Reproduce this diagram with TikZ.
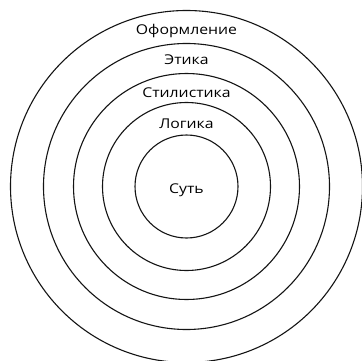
\documentclass[tikz,border=0pt]{standalone}
\usepackage{fontspec}
\setmainfont[FakeStretch=1.17]{Open Sans}
\usepackage{xcolor}
\definecolor{ring}{RGB}{20,20,20}
\definecolor{label}{RGB}{45,45,45}

\begin{document}
\begin{tikzpicture}[x=1pt,y=1pt]
  \tikzset{
    ringline/.style={ring,line width=1.1pt},
    ringlabel/.style={label,font=\fontsize{13.5}{15}\selectfont,inner sep=0pt}
  }
  \useasboundingbox (0,0) rectangle (362,360);
  \clip (0,0) rectangle (362,360);
  \fill[white] (0,0) rectangle (362,360);

  % rings
  \draw[ringline] (186.5,173.5) circle (176);
  \draw[ringline] (186.5,173.5) circle (143);
  \draw[ringline] (186.5,173.5) circle (113);
  \draw[ringline] (186.5,173.5) circle (84);
  \draw[ringline] (186.5,173.5) circle (51.5);

  % labels
  \node[ringlabel] (design) at (186.5,329.5) {Оформление};
  \node[ringlabel] (ethics) at (186.5,300) {Этика};
  \node[ringlabel] (style) at (186.5,267) {Стилистика};
  \node[ringlabel] (logic) at (186.5,236) {Логика};
  \node[ringlabel] (core) at (186.5,169.5) {Суть};
\end{tikzpicture}
\end{document}
